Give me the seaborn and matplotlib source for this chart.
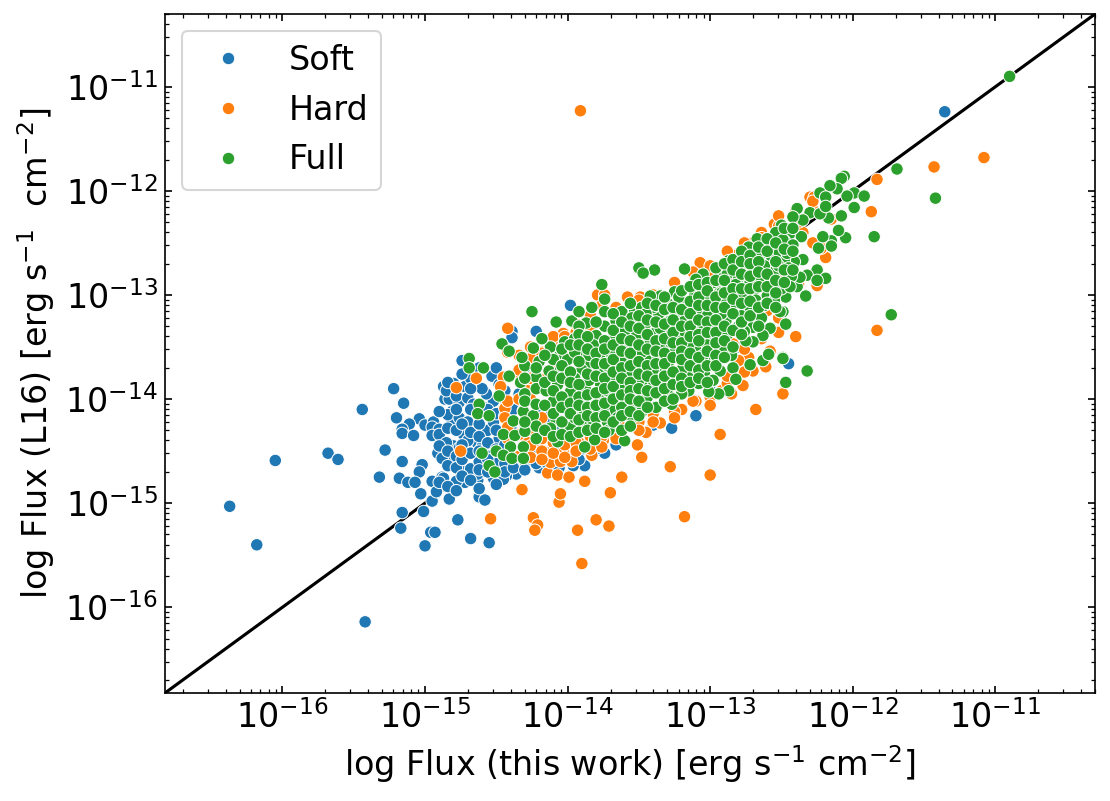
import matplotlib
matplotlib.use("Agg")
import matplotlib.pyplot as plt
import pandas as pd
import seaborn as sns

band_names = ["Soft", "Hard", "Full"]
axis_limits = [1.5e-17, 5e-11]
x_title = r"log Flux (this work) [erg s$^{-1}$ cm$^{-2}$]"
y_title = r"log Flux (L16) [erg s$^{-1}$  cm$^{-2}$]"

# (log10 flux this work, log10 flux L16)
soft_points = [
(-16.05,-14.59),(-16.37,-15.03),(-16.18,-15.40),(-15.42,-16.14),(-15.44,-14.10),(-15.68,-14.52),(-15.61,-14.58),
(-15.22,-13.90),(-15.15,-14.04),(-15.20,-14.18),(-15.04,-14.19),(-15.11,-14.24),(-15.16,-14.29),(-15.16,-14.33),
(-15.08,-14.35),(-15.00,-14.25),(-14.94,-14.22),(-14.95,-14.27),(-14.90,-14.29),(-14.95,-14.35),(-15.28,-14.49),
(-15.16,-14.60),(-15.02,-14.63),(-15.04,-14.70),(-15.32,-14.75),(-15.18,-14.76),(-15.12,-14.80),(-15.07,-14.80),
(-15.03,-14.91),(-14.95,-14.79),(-14.92,-14.90),(-14.95,-14.98),(-14.91,-14.52),(-14.87,-14.57),(-14.87,-13.88),
(-14.86,-14.00),(-14.83,-14.00),(-15.16,-15.09),(-15.01,-15.08),(-15.17,-15.24),(-14.96,-15.28),(-14.93,-15.28),
(-15.00,-15.41),(-11.355,-11.24),(-14.39,-13.35),(-13.98,-13.10),(-12.45,-13.66),(-13.10,-14.16),(-13.27,-14.28),
(-14.22,-13.35),(-14.39,-13.41),(-14.74,-13.63),(-14.76,-14.03),(-14.81,-14.12),(-14.81,-14.22),(-14.73,-14.34),
(-14.66,-14.26),(-14.56,-14.30),(-14.53,-13.78),(-14.52,-14.02),(-14.63,-14.12),(-14.57,-13.95),(-14.81,-14.57),
(-14.88,-14.57),(-14.80,-14.45),(-14.63,-14.43),(-14.73,-14.67),(-14.66,-14.67),(-14.36,-14.72),(-14.88,-14.75),
(-13.88,-14.64),(-13.74,-14.52),(-14.24,-14.59),(-14.43,-14.74),(-14.77,-15.16),(-14.68,-15.34),(-14.55,-15.38),
(-14.62,-14.94),(-14.58,-14.97),(-14.83,-14.96),(-14.72,-14.80),(-14.78,-14.79),(-14.87,-14.76),(-14.92,-14.89),
(-14.63,-14.78),(-14.63,-14.72),(-14.52,-14.76),(-14.45,-14.77),(-14.73,-14.70),(-14.68,-14.67),(-13.96,-14.64),
(-14.85,-13.92),(-14.80,-13.85),(-14.78,-13.97),(-14.72,-13.88),(-14.70,-13.99),(-14.68,-13.80),(-14.66,-14.05),
(-14.60,-13.90),(-14.59,-14.08),(-14.48,-13.86),(-14.46,-14.12),(-14.84,-14.15),(-14.76,-14.18),(-14.70,-14.22),
(-14.90,-14.34),(-14.85,-14.42),(-14.76,-14.47),(-14.70,-14.40),(-14.60,-14.46),(-14.55,-14.55),(-14.50,-14.62),
(-14.62,-14.60),(-14.42,-14.65),(-14.35,-14.60),(-14.48,-14.38),(-14.40,-14.25),(-14.30,-14.48),(-14.20,-14.66),
(-14.10,-14.45),(-14.00,-14.55),(-13.85,-14.50),(-14.52,-14.22),(-14.44,-14.00),(-14.34,-13.95),(-14.25,-13.72),
(-14.18,-14.12),(-14.05,-14.30),
]
soft_more = {
-14.90:[-14.12,-14.45,-14.80], -14.84:[-13.84,-14.28,-14.50,-14.64,-14.84], -14.78:[-14.10,-14.30,-14.55,-14.66,-14.88],
-14.74:[-13.76,-14.24,-14.44,-14.58,-14.74], -14.68:[-13.90,-14.10,-14.32,-14.52,-14.78],
-14.62:[-13.70,-14.24,-14.36,-14.50,-14.68,-14.86], -14.56:[-14.10,-14.42,-14.58,-14.70],
-14.50:[-13.70,-14.14,-14.30,-14.48,-14.82], -14.44:[-13.92,-14.16,-14.44,-14.62,-14.70],
-14.38:[-14.10,-14.32,-14.54,-14.66], -14.30:[-13.70,-14.00,-14.24,-14.60,-14.68], -14.22:[-14.34,-14.52,-14.62],
-14.14:[-14.24,-14.56,-14.62], -14.06:[-14.46,-14.66], -13.92:[-14.50,-14.58], -13.80:[-14.44,-14.48],
-13.66:[-14.44], -13.40:[-14.25], -13.00:[-13.92], -12.80:[-13.50],
}
hard_points = [
(-14.75,-14.50),(-14.32,-14.87),(-14.54,-15.15),(-14.24,-15.14),(-14.21,-15.21),(-14.23,-15.26),(-14.06,-14.99),
(-14.05,-14.91),(-14.14,-14.71),(-14.07,-14.73),(-13.99,-14.75),(-13.88,-14.79),(-13.62,-14.75),(-13.70,-14.90),
(-13.93,-15.26),(-13.80,-15.16),(-13.71,-15.22),(-13.90,-15.58),(-13.18,-15.13),(-13.28,-14.65),(-13.00,-14.73),
(-13.48,-14.56),(-13.51,-14.44),(-14.12,-14.61),(-14.05,-14.60),(-13.97,-14.60),(-14.12,-14.51),(-13.98,-14.45),
(-13.83,-14.54),(-14.03,-14.50),(-13.91,-11.23),(-12.68,-14.10),(-12.93,-14.34),(-12.49,-13.94),(-11.08,-11.68),
(-11.43,-11.77),(-11.83,-11.89),(-11.87,-12.20),(-12.19,-12.64),(-11.83,-13.34),(-12.40,-13.40),(-12.30,-12.06),
(-12.27,-12.06),(-12.25,-12.91),(-12.77,-13.87),(-12.49,-13.95),(-12.73,-13.60),(-12.80,-13.63),(-12.70,-13.73),
(-12.61,-13.69),(-12.58,-13.54),(-12.84,-13.47),(-13.58,-13.03),(-13.49,-13.02),(-13.07,-12.69),(-14.42,-13.32),
(-14.78,-13.89),(-14.64,-13.80),(-14.11,-13.45),(-14.03,-13.37),(-13.94,-13.36),(-13.79,-13.00),(-13.74,-13.00),
(-13.58,-13.02),(-14.45,-13.79),(-14.47,-13.88),(-14.44,-14.09),(-14.44,-14.18),(-14.31,-14.11),(-14.42,-14.27),
(-13.64,-14.24),(-14.25,-13.60),(-14.18,-13.55),(-14.35,-13.75),(-14.28,-13.92),(-14.15,-13.80),(-14.30,-14.38),
(-14.22,-14.42),(-14.15,-14.35),(-14.00,-14.38),(-13.92,-14.42),(-13.75,-14.40),(-13.66,-14.35),(-13.45,-14.32),
(-13.35,-14.23),(-13.20,-14.10),(-13.10,-14.02),(-13.00,-14.00),(-12.92,-13.92),(-12.85,-13.95),(-12.98,-12.78),
(-12.82,-12.62),(-12.70,-12.50),(-12.55,-12.32),(-12.40,-12.20),(-12.15,-12.27),(-12.22,-12.55),(-12.35,-12.40),
(-12.50,-12.80),(-12.60,-13.15),(-12.52,-13.35),
]
hard_more = {
-14.42:[-13.55,-14.02,-14.38], -14.34:[-13.58,-13.72,-14.00,-14.34,-14.55], -14.26:[-13.50,-13.80,-14.00,-14.30,-14.45,-14.56],
-14.18:[-13.42,-13.56,-14.18,-14.38,-14.50,-14.58], -14.10:[-13.40,-13.70,-14.42,-14.52], -14.02:[-13.40,-13.55,-14.44,-14.56],
-13.94:[-13.28,-13.50,-14.42,-14.50], -13.84:[-13.20,-13.34,-14.36,-14.48], -13.76:[-13.10,-14.36,-14.46],
-13.66:[-13.12,-13.22,-14.32,-14.38], -13.50:[-13.05,-14.22,-14.30], -13.40:[-13.00,-14.14,-14.22],
-13.25:[-12.88,-14.12,-14.18], -13.12:[-12.78,-14.02], -13.00:[-12.72,-13.98,-14.06], -12.88:[-12.58,-13.85,-13.78],
-12.76:[-13.52,-12.50,-13.74], -12.64:[-13.42,-12.40,-12.45], -12.52:[-13.22,-12.34,-12.24,-13.36,-13.00],
-12.38:[-12.90,-12.30], -12.28:[-12.50,-12.18,-12.10],
}
full_points = [
(-10.90,-10.90),(-11.69,-11.79),(-11.42,-12.07),(-11.85,-12.44),(-11.73,-13.19),(-11.99,-12.02),(-11.92,-12.05),
(-11.99,-12.16),(-12.04,-12.05),(-12.06,-11.86),(-12.08,-11.88),(-12.11,-11.98),(-12.16,-11.95),(-12.23,-12.02),
(-12.19,-12.06),(-12.08,-12.24),(-12.05,-12.45),(-12.10,-12.38),(-12.15,-12.48),(-12.15,-12.53),(-12.24,-12.55),
(-12.21,-12.44),(-12.17,-12.26),(-12.30,-12.21),(-12.39,-12.17),(-12.35,-12.28),(-12.42,-12.25),(-12.23,-12.22),
(-12.19,-12.15),(-12.44,-12.41),(-12.36,-12.44),(-12.48,-12.48),(-12.35,-12.66),(-12.41,-12.68),(-12.48,-12.67),
(-12.25,-12.76),(-12.19,-12.84),(-12.32,-12.81),(-12.25,-12.86),(-12.39,-12.92),(-12.33,-13.01),(-12.37,-12.83),
(-12.43,-12.82),(-12.47,-13.02),(-12.47,-13.28),(-12.49,-13.16),(-12.49,-13.60),(-12.50,-12.33),(-12.54,-12.40),
(-12.49,-12.47),(-12.67,-12.46),(-12.73,-12.54),(-12.65,-12.61),(-12.57,-12.63),(-12.77,-12.63),(-12.87,-12.67),
(-12.69,-12.76),(-12.75,-12.76),(-12.80,-12.83),(-12.62,-12.89),(-12.50,-12.94),(-12.60,-13.01),(-12.70,-12.97),
(-12.93,-12.92),(-12.92,-12.81),(-13.05,-12.80),(-13.18,-12.75),(-13.39,-12.76),(-13.50,-12.74),(-13.47,-12.79),
(-13.05,-12.93),(-13.11,-13.01),(-13.35,-13.01),(-13.25,-12.97),(-13.42,-13.01),(-12.89,-13.07),(-13.06,-13.07),
(-13.19,-13.08),(-13.53,-13.16),(-12.78,-13.20),(-12.51,-13.16),(-12.64,-13.22),(-12.58,-13.32),(-12.70,-13.31),
(-12.63,-13.39),(-12.70,-13.45),(-12.75,-13.44),(-12.89,-13.25),(-13.08,-13.16),(-13.25,-13.18),(-13.24,-13.31),
(-13.45,-13.27),(-13.39,-13.37),(-13.08,-13.29),(-12.97,-13.41),(-12.96,-13.52),(-13.10,-13.50),(-13.29,-13.49),
(-13.51,-13.56),(-13.39,-13.60),(-13.19,-13.67),(-13.04,-13.76),(-12.93,-13.73),(-12.84,-13.70),(-12.82,-13.81),
(-12.87,-13.92),(-12.94,-13.95),(-13.01,-13.93),(-13.15,-13.92),(-13.32,-13.85),(-13.46,-13.85),(-13.59,-13.94),
(-13.44,-13.98),(-13.29,-13.97),(-13.47,-13.71),(-13.59,-13.74),(-13.29,-13.64),(-12.63,-13.63),(-12.59,-13.57),
(-12.72,-13.67),(-12.49,-13.61),(-12.32,-13.73),(-12.47,-13.84),
(-13.76,-12.90),(-14.25,-13.16),(-14.08,-13.26),(-13.97,-13.25),(-13.74,-13.04),(-13.92,-13.16),(-13.83,-13.12),
(-13.74,-13.16),(-13.62,-13.16),(-13.87,-13.27),(-14.46,-13.47),(-14.41,-13.54),(-14.24,-13.51),(-14.02,-13.45),
(-13.95,-13.42),(-13.80,-13.39),(-13.74,-13.30),(-13.70,-13.44),(-13.60,-13.35),(-14.69,-13.61),(-14.69,-13.70),
(-14.59,-13.70),(-14.30,-13.68),(-14.20,-13.64),(-14.06,-13.59),(-13.93,-13.56),(-13.75,-13.60),(-13.62,-13.57),
(-14.41,-13.78),(-14.33,-13.84),(-14.22,-13.79),(-14.13,-13.73),(-13.86,-13.67),(-13.65,-13.73),(-14.48,-13.97),
(-14.30,-13.95),(-14.22,-13.90),(-14.07,-13.86),(-13.87,-13.92),(-13.98,-13.93),(-13.77,-13.85),(-14.10,-14.02),
(-14.62,-14.05),(-14.63,-14.14),(-14.55,-14.16),(-14.31,-14.12),(-14.24,-14.16),(-14.38,-14.21),(-14.08,-14.20),
(-14.22,-14.26),(-13.91,-14.13),(-13.78,-14.00),(-13.68,-14.11),(-13.58,-14.03),(-13.98,-14.27),(-13.88,-14.25),
(-13.72,-14.22),(-13.71,-14.30),(-13.60,-14.40),(-14.45,-14.34),(-14.37,-14.35),(-14.30,-14.31),(-14.07,-14.41),
(-14.40,-14.46),(-14.31,-14.46),(-13.81,-14.39),(-13.88,-14.46),(-14.60,-14.52),(-14.50,-14.50),(-14.45,-14.54),
(-14.39,-14.57),(-14.31,-14.57),(-14.55,-14.64),(-14.51,-14.70),
(-14.00,-13.62),(-13.90,-13.72),(-13.82,-13.48),(-13.78,-13.72),(-13.70,-13.55),(-13.66,-13.25),(-13.55,-13.22),
(-13.52,-13.40),(-13.56,-13.62),(-13.50,-13.82),(-13.42,-13.45),(-13.36,-13.18),(-13.33,-13.70),(-13.30,-13.38),
(-13.25,-13.55),(-13.20,-13.42),(-13.18,-13.25),(-13.15,-13.78),(-13.12,-13.60),(-13.02,-13.62),(-13.00,-13.30),
(-12.98,-13.15),(-13.95,-13.80),(-13.90,-14.02),(-13.85,-13.82),(-13.80,-14.12),(-13.72,-13.92),(-13.68,-13.82),
(-13.64,-13.95),(-13.58,-13.48),(-13.55,-14.18),(-13.52,-14.05),(-13.48,-14.12),(-13.45,-13.62),(-13.40,-13.88),
(-13.38,-14.08),(-13.35,-13.52),(-13.30,-13.78),(-13.27,-14.05),(-13.22,-13.85),(-13.20,-13.95),(-13.15,-13.48),
(-13.12,-13.35),(-13.08,-13.85),(-13.05,-13.42),(-13.02,-13.48),(-12.98,-13.82),(-12.95,-13.30),(-12.90,-13.52),
(-12.88,-13.38),(-12.85,-13.12),(-12.85,-13.58),(-12.82,-12.90),(-12.78,-13.02),(-12.76,-13.35),(-12.72,-13.12),
(-12.68,-13.05),(-12.66,-12.85),(-12.62,-13.10),(-12.58,-12.82),(-12.55,-12.78),(-12.55,-13.05),(-12.52,-12.58),
(-12.46,-12.60),(-12.44,-12.92),(-12.42,-12.52),(-12.92,-12.98),(-12.98,-12.88),(-13.02,-13.00),(-13.10,-12.85),
(-13.15,-13.12),(-13.22,-13.02),(-13.30,-13.08),(-13.40,-13.12),(-13.48,-13.12),(-13.56,-13.08),(-13.95,-13.55),
(-14.05,-13.72),(-14.15,-13.92),(-14.00,-14.10),(-14.12,-14.28),(-13.95,-14.18),(-13.82,-14.22),(-13.65,-14.18),
(-13.75,-14.12),(-13.62,-13.88),(-13.85,-13.58),(-13.72,-13.68),(-13.62,-13.65),(-13.55,-13.75),(-13.48,-13.55),
(-13.40,-13.72),(-13.35,-13.32),(-13.28,-13.25),(-13.18,-13.35),(-13.10,-13.70),(-13.05,-13.58),(-12.95,-13.62),
(-12.92,-13.18),(-12.80,-13.30),(-12.88,-12.80),(-12.78,-12.72),(-12.72,-12.88),(-12.62,-12.72),(-12.58,-12.52),
(-12.52,-12.72),(-12.45,-12.74),(-13.02,-13.20),(-13.12,-13.22),(-13.32,-13.60),(-13.20,-13.72),(-13.45,-13.18),
(-13.60,-13.50),(-13.68,-13.42),(-13.92,-13.30),(-14.12,-13.50),(-14.18,-13.42),(-14.10,-13.62),(-14.32,-13.60),
]
full_more = {
-14.30:[-13.80,-14.02,-14.22], -14.22:[-13.70,-14.05,-14.38], -14.16:[-13.58,-13.84,-14.06,-14.30],
-14.10:[-13.78,-13.92,-14.14,-14.36], -14.04:[-13.52,-13.68,-13.80,-13.98,-14.08,-14.22,-14.34],
-13.98:[-13.48,-13.74,-13.84,-14.04,-14.14,-14.36], -13.92:[-13.38,-13.48,-13.64,-13.86,-13.98,-14.06,-14.20,-14.32],
-13.86:[-13.40,-13.52,-13.76,-13.96,-14.08,-14.16,-14.30], -13.80:[-13.26,-13.56,-13.66,-13.78,-13.94,-14.06,-14.18,-14.28],
-13.74:[-13.44,-13.52,-13.66,-13.80,-13.90,-14.04,-14.16,-14.32], -13.68:[-13.18,-13.34,-13.48,-13.62,-13.74,-13.88,-14.00,-14.22],
-13.62:[-13.26,-13.42,-13.54,-13.70,-13.80,-13.96,-14.08,-14.16,-14.30], -13.56:[-13.30,-13.44,-13.56,-13.68,-13.84,-13.92,-14.00,-14.12,-14.26],
-13.50:[-13.20,-13.32,-13.48,-13.64,-13.76,-13.90,-14.02,-14.16], -13.44:[-13.08,-13.24,-13.38,-13.52,-13.68,-13.78,-13.92,-14.08],
-13.38:[-13.10,-13.26,-13.44,-13.54,-13.66,-13.82,-13.94], -13.32:[-13.02,-13.14,-13.28,-13.42,-13.56,-13.66,-13.78,-13.90,-14.02],
-13.26:[-13.12,-13.24,-13.36,-13.46,-13.60,-13.74,-13.86,-14.00], -13.20:[-12.96,-13.14,-13.30,-13.46,-13.54,-13.62,-13.80,-13.88],
-13.14:[-12.92,-13.06,-13.18,-13.30,-13.40,-13.56,-13.68,-13.84], -13.08:[-12.90,-13.02,-13.10,-13.24,-13.38,-13.44,-13.60,-13.72,-13.80],
-13.02:[-12.88,-12.96,-13.10,-13.26,-13.36,-13.54,-13.68,-13.84], -12.96:[-12.74,-12.86,-13.02,-13.12,-13.24,-13.36,-13.46,-13.58,-13.68],
-12.90:[-12.70,-12.86,-12.98,-13.12,-13.30,-13.44,-13.60], -12.84:[-12.66,-12.76,-12.94,-13.04,-13.18,-13.34,-13.50],
-12.78:[-12.58,-12.68,-12.80,-12.94,-13.08,-13.26,-13.38], -12.72:[-12.62,-12.70,-12.82,-12.94,-13.06,-13.20],
-12.66:[-12.54,-12.68,-12.78,-12.92,-13.12,-13.30], -12.60:[-12.46,-12.58,-12.80,-12.92,-13.08],
-12.54:[-12.50,-12.68,-12.86,-12.98,-13.12], -12.48:[-12.36,-12.56,-12.76,-12.88], -12.42:[-12.36,-12.58,-12.76],
}

band_points = {"Soft": (soft_points, soft_more), "Hard": (hard_points, hard_more), "Full": (full_points, full_more)}
rows = []
for band in band_names:
    pairs, columns = band_points[band]
    rows += [(10 ** lx, 10 ** ly, band) for lx, ly in pairs]
    rows += [(10 ** lx, 10 ** ly, band) for lx, ys in columns.items() for ly in ys]
data = pd.DataFrame(rows, columns=["x", "y", "band"])

fig, ax = plt.subplots(figsize=(7.4, 5.34), dpi=150)
fig.subplots_adjust(left=0.1486, right=0.9865, top=0.9825, bottom=0.1348)

ax.plot(axis_limits, axis_limits, color="black", lw=1.5, zorder=1)
sns.scatterplot(data=data, x="x", y="y", hue="band", hue_order=band_names, ax=ax, zorder=2)

ax.set_xscale("log")
ax.set_yscale("log")
ax.set_xlim(axis_limits)
ax.set_ylim(axis_limits)
ax.set_xlabel(x_title, fontsize=16)
ax.set_ylabel(y_title, fontsize=16)
ax.tick_params(axis="both", which="both", direction="in", top=True, right=True)
ax.tick_params(axis="both", which="major", labelsize=16)
ax.legend(loc="upper left", fontsize=16, title=None)

fig.savefig("out.png", dpi=150)
